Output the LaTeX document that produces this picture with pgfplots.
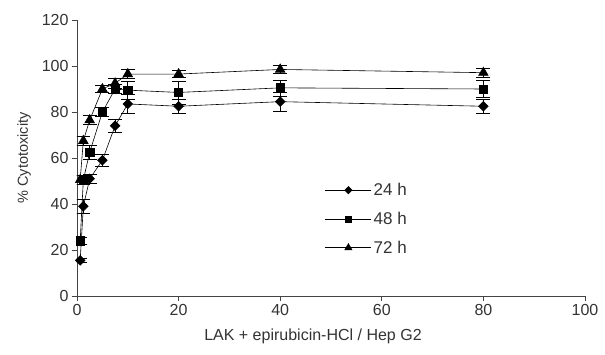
\documentclass[border=0pt]{standalone}
\usepackage{pgfplots}
\pgfplotsset{compat=1.18}
\usepackage{fontspec}
\setmainfont{Liberation Sans}
\definecolor{txt}{HTML}{333333}
\definecolor{axc}{HTML}{444444}
\begin{document}
\begin{tikzpicture}
\begin{axis}[
  name=ax,
  scale only axis,
  width=508pt, height=276pt,
  xmin=0, xmax=100, ymin=0, ymax=120,
  axis lines=left,
  axis line style={axc, line width=0.7pt, -},
  xtick={0,20,...,100}, ytick={0,20,...,120},
  tick style={axc, line width=0.7pt},
  tick align=outside, major tick length=5pt,
  tick label style={font=\fontsize{16}{18}\selectfont, text=txt},
  /pgf/number format/assume math mode=true,
  xlabel={LAK + epirubicin-HCl / Hep G2},
  ylabel={\% Cytotoxicity},
  label style={text=txt},
  xlabel style={font=\fontsize{16}{18}\selectfont, yshift=-6pt, xshift=-18pt},
  ylabel style={font=\fontsize{14.5}{17}\selectfont, yshift=4pt},
  legend style={at={(axis cs:48.8,33.5)}, anchor=west, draw=none, fill=none,
    inner sep=0pt, row sep=11pt, font=\fontsize{17}{19}\selectfont, text=txt,
    legend cell align=left},
  legend image code/.code={\draw[mark repeat=2, mark phase=2, every mark/.append style={scale=0.75}] plot coordinates {(0pt,0pt) (23pt,0pt) (46pt,0pt)};},
  myerr/.style={error bars/.cd, y dir=both, y explicit,
    error bar style={black, line width=0.6pt},
    error mark options={black, rotate=90, mark size=7pt, line width=0.6pt}},
]
\addplot[black, line width=0.6pt, mark=square*, mark size=3.4pt, mark options={solid, fill=black, rotate=45}, myerr] coordinates {
 (0.625,15.5) +- (0,1)
 (1.25,39) +- (0,3)
 (2.5,51) +- (0,2)
 (5,59) +- (0,2.5)
 (7.5,74) +- (0,3)
 (10,83.5) +- (0,4)
 (20,82.5) +- (0,3)
 (40,84.5) +- (0,4)
 (80,82.5) +- (0,3)
};
\addlegendentry{24 h}
\addplot[black, line width=0.6pt, mark=square*, mark size=4.2pt, mark options={solid, fill=black}, myerr] coordinates {
 (0.625,24) +- (0,1.5)
 (1.25,50.5) +- (0,2)
 (2.5,62.5) +- (0,3)
 (5,80) +- (0,2)
 (7.5,90) +- (0,2)
 (10,89.5) +- (0,4)
 (20,88.5) +- (0,5)
 (40,90.5) +- (0,3.5)
 (80,90) +- (0,3.6)
};
\addlegendentry{48 h}
\addplot[black, line width=0.6pt, mark=triangle*, mark size=5.5pt, mark options={solid, fill=black}, myerr] coordinates {
 (0.625,50.5) +- (0,2)
 (1.25,67.5) +- (0,2)
 (2.5,76.5) +- (0,2)
 (5,90) +- (0,1.5)
 (7.5,92.5) +- (0,2)
 (10,96.5) +- (0,2)
 (20,96.5) +- (0,1.5)
 (40,98.5) +- (0,1.8)
 (80,97.1) +- (0,1.8)
};
\addlegendentry{72 h}
\end{axis}
\pgfresetboundingbox
\path ([shift={(-77pt,-58pt)}]ax.south west) rectangle ([shift={(20pt,20pt)}]ax.north east);
\end{tikzpicture}
\end{document}
